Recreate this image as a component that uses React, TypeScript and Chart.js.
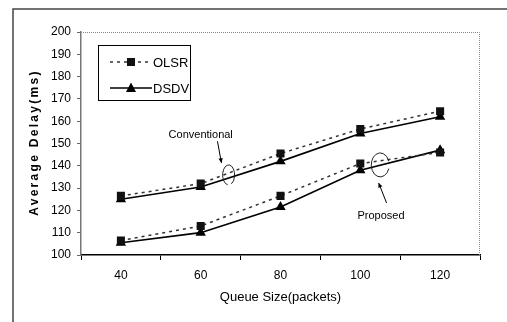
import React, { useEffect, useRef } from "react";
import { Chart, registerables } from "chart.js";

Chart.register(...registerables);

const categories = ["40", "60", "80", "100", "120"];
const olsrConventional = [126.5, 132, 145.5, 156.5, 164.5];
const dsdvConventional = [125, 130.5, 142, 154.5, 162];
const olsrProposed = [106.5, 113, 126.5, 141, 146];
const dsdvProposed = [105.5, 110, 121.5, 138, 147];
const yTicks = { min: 100, max: 200, step: 10 };
const legendLabels = ["OLSR", "DSDV"];
const xTitle = "Queue Size(packets)";
const yTitle = "Average Delay(ms)";

const FONT = "Arial, 'Liberation Sans', sans-serif";

const overlay = {
  id: "overlay",
  afterDraw(chart: any) {
    const ctx = chart.ctx;
    const ca = chart.chartArea;
    const xs = chart.scales.x;
    const ys = chart.scales.y;
    ctx.save();
    // outer frame
    ctx.strokeStyle = "#444";
    ctx.lineWidth = 1.5;
    ctx.beginPath();
    ctx.moveTo(13, 322);
    ctx.lineTo(13, 9);
    ctx.lineTo(507, 9);
    ctx.stroke();
    // dotted top & right plot border
    ctx.strokeStyle = "#888";
    ctx.lineWidth = 1;
    ctx.setLineDash([1, 1]);
    ctx.beginPath();
    ctx.moveTo(ca.left, ca.top + 0.5);
    ctx.lineTo(ca.right - 0.5, ca.top + 0.5);
    ctx.lineTo(ca.right - 0.5, ca.bottom);
    ctx.stroke();
    ctx.setLineDash([]);

    // axis titles
    ctx.fillStyle = "#000";
    ctx.font = `13px ${FONT}`;
    ctx.textAlign = "center";
    ctx.textBaseline = "middle";
    ctx.fillText(xTitle, (ca.left + ca.right) / 2, 297);
    ctx.save();
    ctx.translate(35, 142.5);
    ctx.rotate(-Math.PI / 2);
    ctx.font = `bold 12px ${FONT}`;
    (ctx as any).letterSpacing = "2.3px";
    ctx.fillText(yTitle, 0, 0);
    ctx.restore();

    // legend
    const ds = chart.data.datasets;
    ctx.strokeStyle = "#000";
    ctx.lineWidth = 1;
    ctx.fillStyle = "#fff";
    ctx.fillRect(98, 45, 92, 55);
    ctx.strokeRect(98.5, 45.5, 92, 55);
    const rows = [62, 88];
    for (let i = 0; i < 2; i++) {
      const d = ds[i];
      const y = rows[i];
      ctx.strokeStyle = d.borderColor;
      ctx.lineWidth = d.borderWidth;
      ctx.setLineDash(d.borderDash || []);
      ctx.beginPath();
      ctx.moveTo(110, y);
      ctx.lineTo(152, y);
      ctx.stroke();
      ctx.setLineDash([]);
      ctx.fillStyle = d.pointBackgroundColor;
      ctx.beginPath();
      if (d.pointStyle === "rect") {
        ctx.rect(127, y - 4, 8, 8);
      } else {
        ctx.moveTo(131, y - 5.5);
        ctx.lineTo(136, y + 4);
        ctx.lineTo(126, y + 4);
        ctx.closePath();
      }
      ctx.fill();
      ctx.fillStyle = "#000";
      ctx.font = `13px ${FONT}`;
      ctx.textAlign = "left";
      ctx.fillText(legendLabels[i], 153, y + 1);
    }

    // annotations
    const px = (i: number) => xs.getPixelForValue(i);
    const py = (v: number) => ys.getPixelForValue(v);
    ctx.fillStyle = "#000";
    ctx.font = `11px ${FONT}`;
    ctx.textAlign = "center";
    ctx.fillText("Conventional", px(1.0), py(153.8));
    ctx.fillText("Proposed", px(3.26), py(117.5));

    const arrow = (x1: number, y1: number, x2: number, y2: number) => {
      ctx.strokeStyle = "#000";
      ctx.lineWidth = 1;
      ctx.beginPath();
      ctx.moveTo(x1, y1);
      ctx.lineTo(x2, y2);
      ctx.stroke();
      const a = Math.atan2(y2 - y1, x2 - x1);
      ctx.beginPath();
      ctx.moveTo(x2, y2);
      ctx.lineTo(x2 - 5 * Math.cos(a - 0.45), y2 - 5 * Math.sin(a - 0.45));
      ctx.lineTo(x2 - 5 * Math.cos(a + 0.45), y2 - 5 * Math.sin(a + 0.45));
      ctx.closePath();
      ctx.fillStyle = "#000";
      ctx.fill();
    };
    arrow(px(1.21), py(151), px(1.26), py(141.3));
    arrow(px(3.33), py(123.3), px(3.23), py(132.3));

    ctx.strokeStyle = "#222";
    ctx.lineWidth = 1;
    ctx.beginPath();
    ctx.ellipse(px(1.35), py(135.9), 6, 10, 0, Math.PI * 0.55, Math.PI * 2.35);
    ctx.stroke();
    ctx.beginPath();
    ctx.ellipse(px(3.25), py(140.4), 9, 12, 0, Math.PI * 0.1, Math.PI * 1.9);
    ctx.stroke();
    ctx.restore();
  },
};

export default function App() {
  const ref = useRef<HTMLCanvasElement>(null);
  useEffect(() => {
    if (!ref.current) return;
    const olsrStyle = {
      borderColor: "#333",
      borderWidth: 1.5,
      borderDash: [3, 4],
      pointStyle: "rect",
      pointRadius: 5.7,
      pointBackgroundColor: "#111",
      pointBorderColor: "#111",
      pointBorderWidth: 0,
    };
    const dsdvStyle = {
      borderColor: "#000",
      borderWidth: 1.7,
      pointStyle: "triangle",
      pointRadius: 6,
      pointBackgroundColor: "#000",
      pointBorderColor: "#000",
      pointBorderWidth: 0,
    };
    const chart = new Chart(ref.current, {
      type: "line",
      data: {
        labels: categories,
        datasets: [
          { label: "OLSR", data: olsrConventional, ...olsrStyle },
          { label: "DSDV", data: dsdvConventional, ...dsdvStyle },
          { label: "OLSR proposed", data: olsrProposed, ...olsrStyle },
          { label: "DSDV proposed", data: dsdvProposed, ...dsdvStyle },
        ] as any,
      },
      options: {
        animation: false,
        responsive: false,
        devicePixelRatio: 1,
        layout: { padding: { top: 32, right: 27, bottom: 0, left: 0 } },
        plugins: { legend: { display: false }, tooltip: { enabled: false } },
        scales: {
          x: {
            offset: true,
            grid: {
              offset: true,
              drawOnChartArea: false,
              tickLength: 5,
              color: "#000",
            },
            border: { color: "#000", width: 1.5 },
            ticks: { color: "#000", font: { size: 12, family: FONT }, padding: 8 },
            afterFit: (s: any) => {
              s.height = 67;
            },
          },
          y: {
            min: yTicks.min,
            max: yTicks.max,
            grid: { drawOnChartArea: false, tickLength: 4, color: "#666" },
            border: { color: "#777", width: 1.5 },
            ticks: {
              stepSize: yTicks.step,
              color: "#000",
              font: { size: 12, family: FONT },
              padding: 6,
            },
            afterFit: (s: any) => {
              s.width = 81;
            },
          },
        },
      },
      plugins: [overlay],
    });
    return () => chart.destroy();
  }, []);
  return (
    <div style={{ position: "absolute", left: 0, top: 0, width: 507, height: 322, background: "#fff" }}>
      <canvas ref={ref} width={507} height={322} style={{ display: "block" }} />
    </div>
  );
}
